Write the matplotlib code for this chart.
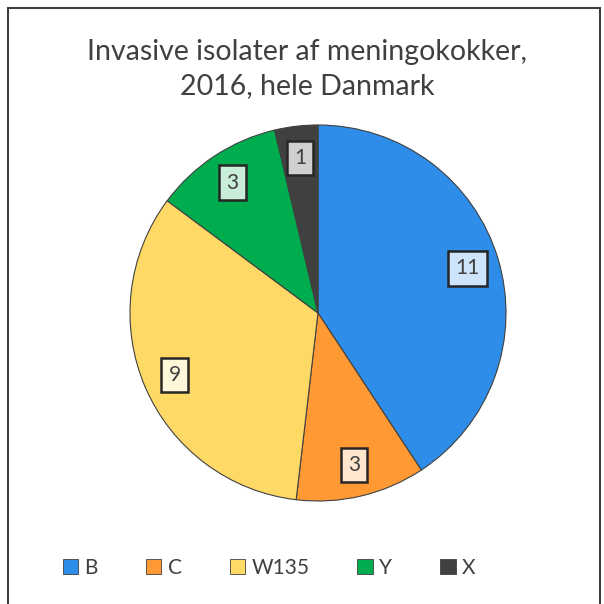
import matplotlib
matplotlib.use("Agg")
import matplotlib.pyplot as plt
from matplotlib.patches import Rectangle

# Data
categories = ["B", "C", "W135", "Y", "X"]
counts = [11, 3, 9, 3, 1]
colors = ["#2E8DE8", "#FF9933", "#FFD966", "#00AD4E", "#404040"]
label_fills = ["#CDE4FA", "#FFE6CC", "#FFF7DA", "#C8EEDA", "#CFCFCF"]

plt.rcParams["font.family"] = ["Lato", "DejaVu Sans"]

fig = plt.figure(figsize=(6.04, 6.04), dpi=100)

# frame around the chart area
fig.patches.append(Rectangle((8 / 604, -0.05), 592 / 604, 1.05 - 8 / 604,
                             transform=fig.transFigure, fill=False,
                             edgecolor="#404040", linewidth=1.5))

fig.text(0.508, 1 - 69 / 604, "Invasive isolater af meningokokker,\n2016, hele Danmark",
         ha="center", va="center", fontsize=20.5, color="#404040", linespacing=1.4)

radius_px = 188
ax = fig.add_axes([(318 - radius_px) / 604, (604 - 313 - radius_px) / 604,
                   2 * radius_px / 604, 2 * radius_px / 604])
wedges, texts = ax.pie(counts, colors=colors, startangle=90, counterclock=False,
                       labels=[str(c) for c in counts], labeldistance=0.83,
                       wedgeprops=dict(edgecolor="#404040", linewidth=0.8),
                       textprops=dict(fontsize=15, color="#404040"))
for t, fc in zip(texts, label_fills):
    t.set_ha("center")
    t.set_va("center")
    t.set_bbox(dict(boxstyle="square,pad=0.35", facecolor=fc,
                    edgecolor="#262626", linewidth=1.8))
ax.set_xlim(-1, 1)
ax.set_ylim(-1, 1)
ax.set_aspect("equal")

handles = [Rectangle((0, 0), 1, 1, facecolor=c, edgecolor="#404040", linewidth=0.6)
           for c in colors]
fig.legend(handles, categories, loc="center", bbox_to_anchor=(269 / 604, 1 - 568 / 604),
           ncol=5, frameon=False, fontsize=15, handlelength=0.75, handleheight=0.75,
           handletextpad=0.3, columnspacing=2.3, labelcolor="#404040")

fig.savefig("out.png", dpi=100)
